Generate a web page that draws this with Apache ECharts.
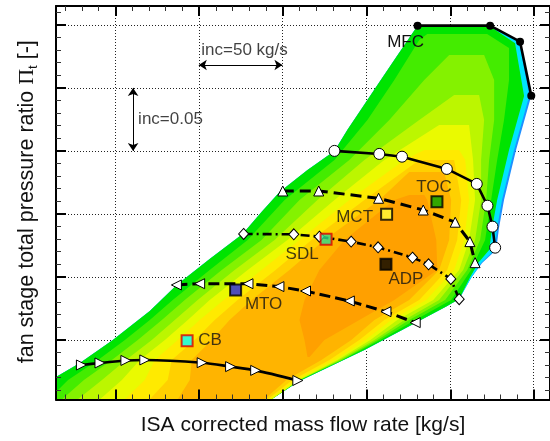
<!DOCTYPE html>
<html>
<head>
<meta charset="utf-8">
<script src="https://cdn.jsdelivr.net/npm/echarts@6/dist/echarts.min.js"></script>
<style>
  html, body { margin: 0; padding: 0; background: #fff; }
  #chart { width: 550px; height: 441px; }
</style>
</head>
<body>
<div id="chart"></div>
<script>
// ---- axis extents: corrected mass flow [kg/s] and fan pressure ratio [-] ----
const X_MIN = 364.6, X_MAX = 660.0;
const Y_MIN = 1.3027, Y_MAX = 1.6150;

const xMajorTicks = [400, 450, 500, 550, 600, 650];
const xMinorTicks = [370, 380, 390, 410, 420, 430, 440, 460, 470, 480, 490,
                     510, 520, 530, 540, 560, 570, 580, 590, 610, 620, 630, 640];
const yMajorTicks = [1.35, 1.40, 1.45, 1.50, 1.55, 1.60];
const yMinorTicks = [1.31, 1.32, 1.33, 1.34, 1.36, 1.37, 1.38, 1.39, 1.41, 1.42,
                     1.43, 1.44, 1.46, 1.47, 1.48, 1.49, 1.51, 1.52, 1.53, 1.54,
                     1.56, 1.57, 1.58, 1.59, 1.61];

// ---- efficiency contour bands, outermost (lowest) first ----
const effBand0 = [[364.6,1.3028],[364.6,1.3206],[378.9,1.3317],[398.6,1.3500],[420.7,1.3730],[436.8,1.3936],[456.5,1.4142],[476.2,1.4341],[487.5,1.4515],[498.3,1.4674],[515.0,1.4849],[531.1,1.5000],[538.8,1.5166],[555.6,1.5500],[568.1,1.5746],[580.8,1.5994],[624.2,1.5994],[642.1,1.5867],[648.8,1.5438],[639.7,1.5008],[632.5,1.4611],[629.5,1.4388],[627.8,1.4214],[619.4,1.4111],[612.8,1.3992],[605.7,1.3825],[598.5,1.3769],[579.4,1.3635],[549.0,1.3420],[510.2,1.3174],[493.5,1.3028]];
const effBand1 = [[364.6,1.3028],[364.6,1.3206],[378.9,1.3317],[398.6,1.3500],[420.7,1.3730],[436.8,1.3936],[456.5,1.4142],[476.2,1.4341],[487.5,1.4515],[498.3,1.4674],[515.0,1.4849],[531.1,1.5000],[538.8,1.5166],[555.6,1.5500],[568.1,1.5746],[580.8,1.5994],[624.2,1.5994],[641.5,1.5866],[647.6,1.5437],[638.5,1.5008],[631.3,1.4611],[628.4,1.4388],[626.8,1.4214],[618.8,1.4111],[612.8,1.3992],[605.7,1.3825],[598.5,1.3769],[579.4,1.3635],[549.0,1.3420],[510.2,1.3174],[493.5,1.3028]];
const effBand2 = [[364.6,1.3028],[364.6,1.3206],[378.9,1.3317],[398.6,1.3500],[420.7,1.3730],[436.8,1.3936],[456.5,1.4142],[476.2,1.4341],[487.5,1.4515],[498.3,1.4674],[515.0,1.4849],[531.1,1.5000],[538.8,1.5166],[555.6,1.5500],[568.1,1.5746],[580.8,1.5994],[623.6,1.5994],[639.1,1.5855],[644.5,1.5436],[635.5,1.5008],[628.4,1.4611],[625.4,1.4388],[623.6,1.4214],[617.0,1.4111],[612.0,1.3992],[605.7,1.3825],[598.5,1.3769],[579.4,1.3635],[549.0,1.3420],[510.2,1.3174],[493.5,1.3028]];
const effBand3 = [[364.6,1.3028],[364.6,1.3087],[371.8,1.3182],[389.7,1.3341],[405.8,1.3500],[420.7,1.3658],[434.4,1.3817],[456.5,1.4055],[479.2,1.4293],[501.3,1.4611],[531.1,1.4928],[550.8,1.5246],[566.9,1.5563],[581.8,1.5881],[586.6,1.5928],[622.4,1.5928],[635.5,1.5817],[635.5,1.5563],[632.5,1.5246],[628.4,1.4928],[624.8,1.4611],[621.2,1.4293],[612.8,1.4055],[600.9,1.3817],[579.4,1.3658],[558.5,1.3500],[535.9,1.3341],[510.2,1.3182],[493.5,1.3028]];
const effBand4 = [[368.2,1.3028],[381.3,1.3182],[398.0,1.3341],[413.5,1.3500],[427.9,1.3658],[441.6,1.3817],[463.7,1.4055],[487.5,1.4293],[510.2,1.4611],[540.0,1.4928],[563.9,1.5246],[584.8,1.5563],[599.7,1.5762],[620.6,1.5762],[626.6,1.5563],[626.6,1.5246],[623.6,1.4928],[621.8,1.4611],[618.2,1.4293],[610.5,1.4055],[597.3,1.3817],[575.8,1.3658],[556.8,1.3500],[535.3,1.3341],[510.2,1.3182],[493.5,1.3028]];
const effBand5 = [[377.7,1.3028],[392.1,1.3182],[406.4,1.3341],[421.9,1.3500],[435.6,1.3658],[449.3,1.3817],[471.4,1.4055],[495.3,1.4293],[520.9,1.4611],[549.0,1.4928],[581.8,1.5246],[602.7,1.5444],[617.6,1.5444],[620.6,1.5246],[618.8,1.4928],[618.8,1.4611],[615.2,1.4293],[608.1,1.4055],[593.7,1.3817],[572.9,1.3658],[555.0,1.3500],[534.1,1.3341],[510.2,1.3182],[493.5,1.3028]];
const effBand6 = [[390.9,1.3028],[404.0,1.3182],[414.7,1.3341],[429.7,1.3500],[443.4,1.3658],[456.5,1.3817],[479.2,1.4055],[503.0,1.4293],[531.1,1.4611],[560.9,1.4928],[593.7,1.5206],[611.6,1.5206],[614.0,1.4928],[615.2,1.4611],[611.6,1.4293],[605.7,1.4055],[590.2,1.3817],[568.7,1.3658],[552.6,1.3500],[532.9,1.3341],[509.6,1.3182],[493.5,1.3028]];
const effBand7 = [[405.8,1.3028],[417.7,1.3182],[423.7,1.3341],[437.4,1.3500],[450.5,1.3658],[464.9,1.3817],[487.5,1.4055],[510.2,1.4293],[540.0,1.4611],[572.9,1.4928],[584.8,1.5008],[605.7,1.5008],[609.3,1.4928],[611.6,1.4611],[608.7,1.4293],[602.7,1.4055],[586.0,1.3817],[565.1,1.3658],[549.6,1.3500],[531.1,1.3341],[508.4,1.3182],[492.3,1.3028]];
const effBand8 = [[420.7,1.3028],[431.4,1.3182],[433.8,1.3341],[447.6,1.3500],[459.5,1.3658],[473.2,1.3817],[495.9,1.4055],[517.4,1.4293],[549.0,1.4611],[581.8,1.4928],[602.7,1.4928],[606.9,1.4611],[604.5,1.4293],[598.5,1.4055],[581.8,1.3817],[560.9,1.3658],[546.0,1.3500],[528.1,1.3341],[506.0,1.3182],[491.1,1.3028]];
const effBand9 = [[437.4,1.3028],[444.6,1.3182],[445.8,1.3341],[457.7,1.3500],[468.4,1.3658],[481.6,1.3817],[504.2,1.4055],[525.1,1.4293],[557.9,1.4611],[575.8,1.4833],[596.7,1.4833],[600.9,1.4611],[599.7,1.4293],[593.7,1.4055],[575.8,1.3817],[555.0,1.3658],[541.2,1.3500],[523.3,1.3341],[502.4,1.3182],[489.3,1.3028]];
const effBand10 = [[515.0,1.3365],[513.2,1.3500],[510.2,1.3658],[513.2,1.3817],[522.1,1.4055],[537.1,1.4293],[566.9,1.4611],[575.8,1.4650],[584.8,1.4650],[586.6,1.4611],[592.0,1.4293],[592.6,1.4055],[566.9,1.3817],[546.0,1.3658],[525.1,1.3500],[516.2,1.3365]];
const effBands = [effBand0, effBand1, effBand2, effBand3, effBand4, effBand5,
                  effBand6, effBand7, effBand8, effBand9, effBand10];
const bandColors = ['#1e90ff', '#00e4ff', '#00e400', '#44ec00', '#84f200', '#bcf600',
                    '#eafa00', '#ffea00', '#ffd000', '#ffb400', '#ffa000'];

// ---- speed lines and max flow capacity line ----
const speedLine1 = [[531.1,1.5000],[557.9,1.4976],[571.5,1.4954],[598.3,1.4857],[616.2,1.4738],[622.6,1.4565],[625.6,1.4399],[627.2,1.4232]];
const speedLine2 = [[500.2,1.4682],[521.7,1.4682],[557.5,1.4624],[584.2,1.4531],[603.3,1.4434],[612.1,1.4280],[615.2,1.4113]];
const speedLine3 = [[476.8,1.4341],[506.8,1.4338],[522.1,1.4319],[541.1,1.4280],[557.2,1.4235],[577.8,1.4153],[587.4,1.4100],[600.7,1.3984],[605.7,1.3823]];
const speedLine4 = [[436.6,1.3936],[450.5,1.3946],[479.4,1.3946],[497.9,1.3923],[513.8,1.3888],[540.0,1.3809],[561.9,1.3724],[579.4,1.3637]];
const speedLine5 = [[379.8,1.3301],[390.9,1.3317],[406.4,1.3337],[417.7,1.3341],[452.0,1.3319],[469.0,1.3288],[484.0,1.3258],[509.2,1.3178]];
const mfcLine = [[580.8,1.5994],[624.2,1.5994],[642.1,1.5867],[648.8,1.5438]];

// ---- operating points ----
const opNames = ['TOC', 'MCT', 'SDL', 'ADP', 'MTO', 'CB'];
const opMassFlow = [592.4, 562.3, 526.1, 561.9, 472.0, 443.0];
const opPressureRatio = [1.4597, 1.4497, 1.4299, 1.4100, 1.3896, 1.3494];

// ---- increment indicators ----
const flowIncrement = 50;      // kg/s
const ratioIncrement = 0.05;   // -
const flowIncStart = [450, 1.5682];
const ratioIncStart = [410.7, 1.55];

// styling of the operating point symbols and label placement
const opFill = ['#00a400', '#ffff3c', '#30dc8c', '#000000', '#2626e6', '#00ffff'];
const opEdge = ['#000000', '#000000', '#dd0000', '#000000', '#000000', '#dd0000'];
const opLabelOffset = [[-3, -14], [-32, 3], [-24, 15], [20, 15], [28, 14], [23, 0]];

const FONT = 'Liberation Sans, Arial, Helvetica, sans-serif';
const W = 550, H = 441;

// plot frame layout (px); helper grids carry the inward frame ticks
const GRID = { left: 56, top: 6, right: -1, bottom: 41.5 };
const UNIT_X = (X_MAX - X_MIN) / (W - GRID.left - GRID.right);
const UNIT_Y = (Y_MAX - Y_MIN) / (H - GRID.top - GRID.bottom);
const pxX = v => GRID.left + (v - X_MIN) / UNIT_X;
const pxY = v => GRID.top + (Y_MAX - v) / UNIT_Y;

const xMinorFirst = xMinorTicks[0], xMinorLast = xMinorTicks[xMinorTicks.length - 1];
const xMajorFirst = xMajorTicks[0], xMajorLast = xMajorTicks[xMajorTicks.length - 1];
const yMinorFirst = yMinorTicks[0], yMinorLast = yMinorTicks[yMinorTicks.length - 1];
const yMajorFirst = yMajorTicks[0], yMajorLast = yMajorTicks[yMajorTicks.length - 1];

const grids = [
  GRID,
  { left: pxX(xMinorFirst), right: W - pxX(xMinorLast), top: GRID.top, bottom: GRID.bottom },
  { left: pxX(xMajorFirst), right: W - pxX(xMajorLast), top: GRID.top, bottom: GRID.bottom },
  { left: GRID.left, right: GRID.right, top: pxY(yMinorLast), bottom: H - pxY(yMinorFirst) },
  { left: GRID.left, right: GRID.right, top: pxY(yMajorLast), bottom: H - pxY(yMajorFirst) }
];

const chart = echarts.init(document.getElementById('chart'), null, { renderer: 'canvas' });

function frameAxis(extra) {
  return Object.assign({
    type: 'value',
    axisLine: { show: true, onZero: false, lineStyle: { color: '#000', width: 2 } },
    axisTick: { show: false },
    axisLabel: { show: false },
    splitLine: { show: false },
    z: 10
  }, extra);
}

function tickAxis(gridIndex, position, min, max, interval, len, width, color) {
  return {
    type: 'value', gridIndex: gridIndex, position: position,
    min: min, max: max, interval: interval,
    axisLine: { show: false, onZero: false },
    axisTick: { show: true, inside: true, length: len, lineStyle: { color: color, width: width } },
    axisLabel: { show: false },
    splitLine: { show: false },
    z: 10
  };
}

function hiddenAxis(gridIndex) {
  return { type: 'value', gridIndex: gridIndex, show: false, min: 0, max: 1,
           axisLine: { onZero: false } };
}

function lineSeries(data, opts) {
  return Object.assign({
    type: 'line',
    data: data,
    showSymbol: true,
    symbolSize: 10,
    z: 5,
    animation: false,
    silent: true,
    itemStyle: { color: '#fff', borderColor: '#000', borderWidth: 1 },
    lineStyle: { color: '#000', width: 2.6 }
  }, opts);
}

const option = {
  animation: false,
  backgroundColor: '#fff',
  grid: grids,
  xAxis: [
    frameAxis({
      min: X_MIN, max: X_MAX, position: 'bottom',
      name: 'ISA corrected mass flow rate [kg/s]',
      nameLocation: 'middle', nameGap: 15,
      nameTextStyle: { fontSize: 21, color: '#111', fontFamily: FONT }
    }),
    frameAxis({ min: X_MIN, max: X_MAX, position: 'top' }),
    tickAxis(1, 'bottom', xMinorFirst, xMinorLast, 10, 5, 1, '#333'),
    tickAxis(1, 'top', xMinorFirst, xMinorLast, 10, 5, 1, '#333'),
    tickAxis(2, 'bottom', xMajorFirst, xMajorLast, 50, 10, 2, '#000'),
    tickAxis(2, 'top', xMajorFirst, xMajorLast, 50, 10, 2, '#000'),
    hiddenAxis(3),
    hiddenAxis(4)
  ],
  yAxis: [
    frameAxis({
      min: Y_MIN, max: Y_MAX, position: 'left',
      name: '{a|fan stage total pressure ratio }{p|Π}{s|t}{a| [-]}',
      nameLocation: 'middle', nameGap: 16, nameRotate: 90,
      nameTextStyle: {
        padding: [0, 0, 0, 2],
        rich: {
          a: { fontSize: 21.5, color: '#111', fontFamily: FONT, lineHeight: 26 },
          p: { fontSize: 22, color: '#111', fontFamily: 'Liberation Serif, Times New Roman, serif', lineHeight: 26 },
          s: { fontSize: 13, color: '#111', fontFamily: FONT, lineHeight: 13, verticalAlign: 'bottom' }
        }
      }
    }),
    frameAxis({ min: Y_MIN, max: Y_MAX, position: 'right' }),
    hiddenAxis(1),
    hiddenAxis(2),
    tickAxis(3, 'left', yMinorFirst, yMinorLast, 0.01, 5, 1, '#333'),
    tickAxis(3, 'right', yMinorFirst, yMinorLast, 0.01, 5, 1, '#333'),
    tickAxis(4, 'left', yMajorFirst, yMajorLast, 0.05, 10, 2, '#000'),
    tickAxis(4, 'right', yMajorFirst, yMajorLast, 0.05, 10, 2, '#000')
  ],
  series: [
    // dotted grid lines
    {
      type: 'custom', coordinateSystem: 'cartesian2d', silent: true, z: 1,
      data: xMajorTicks.map(v => [v, Y_MIN]),
      renderItem(params, api) {
        const cs = params.coordSys;
        const x = Math.round(api.coord([api.value(0), Y_MIN])[0]) + 0.5;
        return { type: 'line', shape: { x1: x, y1: cs.y, x2: x, y2: cs.y + cs.height },
                 style: { stroke: '#222', lineWidth: 1, lineDash: [1, 2] } };
      }
    },
    {
      type: 'custom', coordinateSystem: 'cartesian2d', silent: true, z: 1,
      data: yMajorTicks.map(v => [X_MIN, v]),
      renderItem(params, api) {
        const cs = params.coordSys;
        const y = Math.round(api.coord([X_MIN, api.value(1)])[1]) + 0.5;
        return { type: 'line', shape: { x1: cs.x, y1: y, x2: cs.x + cs.width, y2: y },
                 style: { stroke: '#222', lineWidth: 1, lineDash: [1, 2] } };
      }
    },
    // efficiency contour fill
    {
      type: 'custom', coordinateSystem: 'cartesian2d', silent: true, z: 2,
      data: effBands.map(b => b[0]),
      renderItem(params, api) {
        const band = effBands[params.dataIndex];
        return {
          type: 'polygon',
          shape: { points: band.map(p => api.coord(p)) },
          style: { fill: bandColors[params.dataIndex] }
        };
      }
    },
    // speed lines
    lineSeries(speedLine1, { symbol: 'circle', symbolSize: 11 }),
    lineSeries(speedLine2, { symbol: 'triangle', symbolSize: 10,
      lineStyle: { color: '#000', width: 3, type: [11, 6] } }),
    lineSeries(speedLine3, { symbol: 'diamond', symbolSize: [10, 11],
      lineStyle: { color: '#000', width: 2.6, type: [9, 4, 2, 4] } }),
    lineSeries(speedLine4, { symbol: 'triangle', symbolSize: 10, symbolRotate: 90,
      lineStyle: { color: '#000', width: 3, type: [11, 5] } }),
    lineSeries(speedLine5, { symbol: 'triangle', symbolSize: 10, symbolRotate: -90, smooth: 0.25 }),
    lineSeries(mfcLine.map((p, i) => i === 0 ? {
        value: p,
        label: { show: true, formatter: 'MFC', position: 'inside', offset: [-12, 17],
                 fontSize: 17, color: '#111', fontFamily: FONT }
      } : p), {
      symbol: 'circle', symbolSize: 8,
      itemStyle: { color: '#000', borderColor: '#000', borderWidth: 0 }
    }),
    // operating points
    {
      type: 'scatter', z: 6, silent: true,
      symbol: 'rect', symbolSize: 11,
      data: opNames.map((n, i) => ({
        name: n,
        value: [opMassFlow[i], opPressureRatio[i]],
        itemStyle: { color: opFill[i], borderColor: opEdge[i], borderWidth: 2 },
        label: { offset: opLabelOffset[i] }
      })),
      label: {
        show: true, formatter: '{b}', position: 'inside',
        fontSize: 17, color: '#111', fontFamily: FONT
      }
    },
    // increment arrows
    {
      type: 'lines', coordinateSystem: 'cartesian2d', z: 6, silent: true,
      symbol: ['arrow', 'arrow'], symbolSize: 8,
      lineStyle: { color: '#000', width: 1, opacity: 1, curveness: 0 },
      data: [
        { coords: [flowIncStart, [flowIncStart[0] + flowIncrement, flowIncStart[1]]] },
        { coords: [ratioIncStart, [ratioIncStart[0], ratioIncStart[1] - ratioIncrement]] }
      ]
    },
    {
      type: 'scatter', z: 6, silent: true, symbolSize: 0,
      data: [
        { value: [451.5, 1.5801], name: 'inc=' + flowIncrement + ' kg/s' },
        { value: [413.7, 1.5251], name: 'inc=' + ratioIncrement.toFixed(2) }
      ],
      label: { show: true, formatter: '{b}', position: 'right', distance: 0,
               fontSize: 17, color: '#111', fontFamily: FONT }
    }
  ]
};

chart.setOption(option);
</script>
</body>
</html>
